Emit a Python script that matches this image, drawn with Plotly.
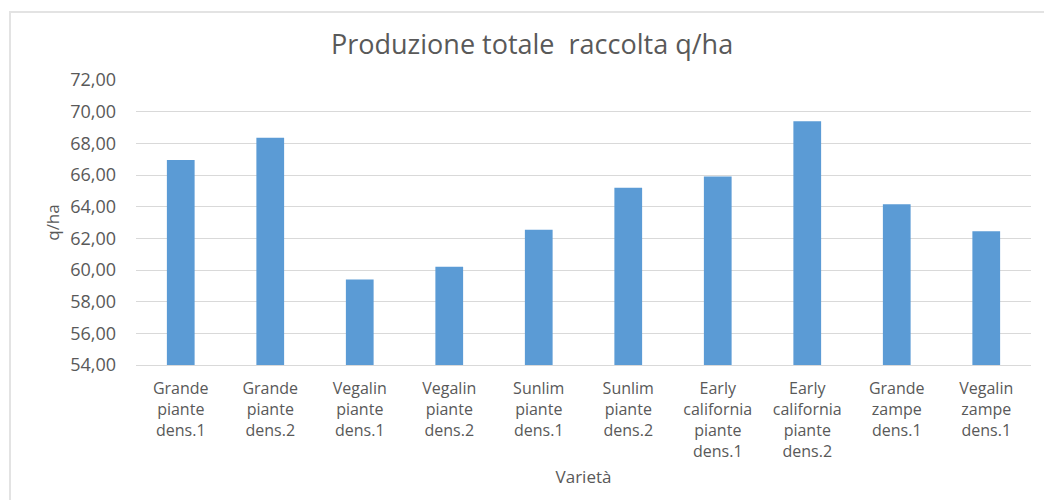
import plotly.graph_objects as go

# valori (q/ha)
varieta = [
    "Grande<br>piante<br>dens.1",
    "Grande<br>piante<br>dens.2",
    "Vegalin<br>piante<br>dens.1",
    "Vegalin<br>piante<br>dens.2",
    "Sunlim<br>piante<br>dens.1",
    "Sunlim<br>piante<br>dens.2",
    "Early<br>california<br>piante<br>dens.1",
    "Early<br>california<br>piante<br>dens.2",
    "Grande<br>zampe<br>dens.1",
    "Vegalin<br>zampe<br>dens.1",
]
produzione = [66.95, 68.35, 59.40, 60.20, 62.55, 65.20, 65.90, 69.40, 64.15, 62.45]

y_ticks = [54, 56, 58, 60, 62, 64, 66, 68, 70, 72]

GREY = "#595959"
GRID = "#d9d9d9"
FONT = "Open Sans, Noto Sans, sans-serif"

fig = go.Figure()
fig.add_trace(go.Bar(
    x=varieta,
    y=produzione,
    marker=dict(color="#5b9bd5", line=dict(width=0)),
    width=0.31,
))

# la pagina ha un margine di 8px: la figura e' un po' piu' piccola
fig.update_layout(
    width=1044,
    height=492,
    margin=dict(l=128, r=21, t=72, b=135),
    paper_bgcolor="white",
    plot_bgcolor="white",
    separators=",.",
    showlegend=False,
    font=dict(family=FONT, color=GREY, size=16),
    title=dict(
        text="Produzione totale  raccolta q/ha",
        x=0.502, xanchor="center",
        y=0.925, yanchor="middle",
        font=dict(size=27, color=GREY),
    ),
    xaxis=dict(
        automargin=False,
        showgrid=False,
        showline=True,
        linecolor=GRID,
        linewidth=1,
        ticks="",
        ticklabelstandoff=9,
        tickfont=dict(size=16, color=GREY),
        title=dict(text="Varietà", font=dict(size=17, color=GREY), standoff=10),
    ),
    yaxis=dict(
        automargin=False,
        range=[54, 72],
        tickvals=y_ticks,
        tickformat=".2f",
        showgrid=True,
        gridcolor=GRID,
        gridwidth=1,
        zeroline=False,
        ticks="",
        ticklabelstandoff=19,
        tickfont=dict(size=18, color=GREY),
        title=dict(text="q/ha", font=dict(size=17, color=GREY), standoff=6),
    ),
    shapes=[
        dict(type="rect", xref="paper", yref="paper",
             x0=-0.1408, x1=1.0168, y0=-0.7, y1=1.2386,
             line=dict(color="#e3e3e3", width=2), fillcolor="rgba(0,0,0,0)",
             layer="below"),
    ],
)

fig.write_html("out.html")
